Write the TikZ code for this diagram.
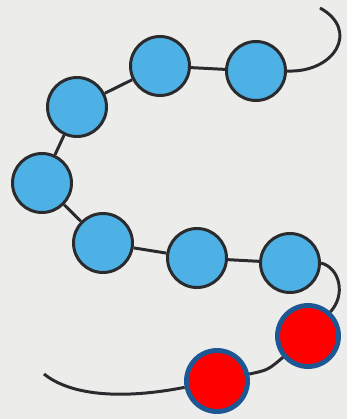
\documentclass[tikz,border=0pt]{standalone}
\usepackage{tikz}
\usetikzlibrary{positioning}
\definecolor{paper}{HTML}{ECEDEB}
\definecolor{beadblue}{HTML}{4DB1E6}
\definecolor{beadline}{HTML}{2B2B2D}
\definecolor{redrim}{HTML}{1D5894}
\tikzset{
	bluebead/.style={circle, draw=beadline, line width=1.7pt, fill=beadblue, minimum size=1.18cm, inner sep=0pt}
}
\tikzset{
	redbead/.style={circle, draw=redrim, line width=2.8pt, fill=red, minimum size=1.22cm, inner sep=0pt}
}
\tikzset{
	strand/.style={draw=beadline, line width=1.7pt}
}
\begin{document}
\begin{tikzpicture}[x=0.02cm, y=-0.02cm]
      \fill[paper] (0,0) rectangle (347,419);
      \node[bluebead] (b1) at (256,71) {};
      \node[bluebead] (b2) at (160,66) {};
      \node[bluebead] (b3) at (77,107) {};
      \node[bluebead] (b4) at (42,183) {};
      \node[bluebead] (b5) at (103,243) {};
      \node[bluebead] (b6) at (197,258) {};
      \node[bluebead] (b7) at (290,263) {};
      \node[redbead] (r1) at (308,336) {};
      \node[redbead] (r2) at (217,381) {};
      \coordinate (topend) at (320,8);
      \coordinate (lowend) at (44,374);
      \draw[strand] (b1) -- (b2);
      \draw[strand] (b2) -- (b3);
      \draw[strand] (b3) -- (b4);
      \draw[strand] (b4) -- (b5);
      \draw[strand] (b5) -- (b6);
      \draw[strand] (b6) -- (b7);
      \draw[strand] (b1.east) .. controls (335,73) and (360,30) .. (topend);
      \draw[strand] (b7.east) .. controls (340,268) and (346,295) .. (r1);
      \draw[strand] (r1) .. controls (268,370) .. (r2);
      \draw[strand] (r2) .. controls (120,400) and (70,395) .. (lowend);
    \end{tikzpicture}
\end{document}
